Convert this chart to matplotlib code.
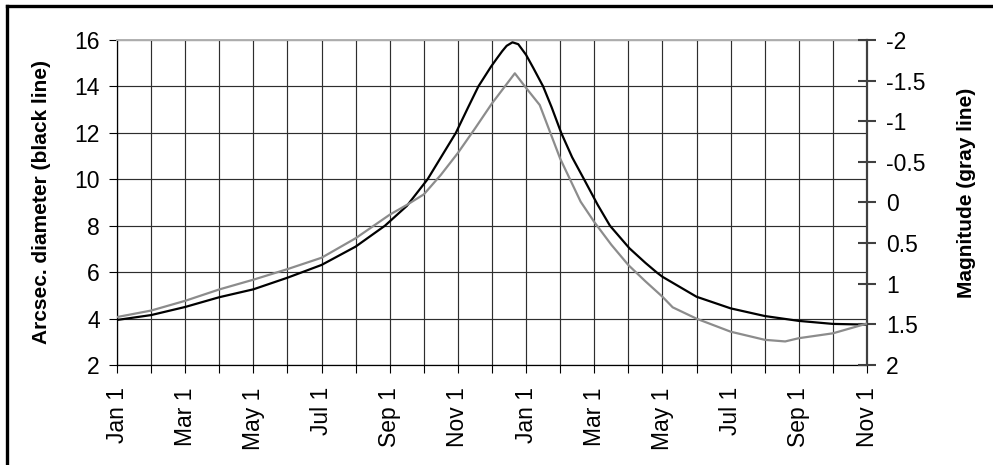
import matplotlib
matplotlib.use("Agg")
import matplotlib.pyplot as plt
from matplotlib.lines import Line2D
from matplotlib.ticker import FixedLocator, NullFormatter

plt.rcParams['font.family'] = ['Liberation Sans', 'DejaVu Sans']

# Time axis in months counted from Jan 1 of the first year
diam_months = [0, 1, 2, 3, 4, 5, 6, 7, 7.86, 8.5, 9.11, 9.5, 9.94, 10.3,
               10.6, 10.97, 11.15, 11.3, 11.43, 11.6, 11.77, 12, 12.21, 12.5,
               12.75, 13.03, 13.35, 13.7, 14.1, 14.46, 15.03, 15.5, 15.83, 16,
               17, 18, 19, 20, 21, 22]
# Apparent diameter of Mars in arcseconds (black line)
diameter = [3.94, 4.15, 4.5, 4.92, 5.26, 5.76, 6.31, 7.1, 8.0, 8.85, 10.0,
            10.94, 12.0, 13.1, 14.0, 14.85, 15.22, 15.52, 15.75, 15.9, 15.82,
            15.36, 14.8, 14.0, 13.1, 12.0, 10.95, 10.0, 8.9, 8.0, 7.03, 6.4,
            5.99, 5.8, 4.94, 4.44, 4.11, 3.9, 3.77, 3.74]

mag_months = [0, 1, 2, 3, 4, 5, 6, 7, 8, 8.5, 9, 9.5, 10, 10.5, 11, 11.67,
              12, 12.4, 13, 13.6, 14, 14.5, 15, 15.5, 16, 16.3, 17, 18, 19,
              19.6, 20, 21, 22]
# Visual magnitude (gray line)
magnitude = [1.41, 1.33, 1.21, 1.07, 0.95, 0.82, 0.68, 0.44, 0.15, 0.03,
             -0.10, -0.34, -0.61, -0.91, -1.22, -1.59, -1.41, -1.20, -0.54,
             -0.01, 0.24, 0.52, 0.77, 0.97, 1.16, 1.29, 1.43, 1.59, 1.69,
             1.71, 1.67, 1.61, 1.49]

month_labels = ["Jan 1", "Mar 1", "May 1", "Jul 1", "Sep 1", "Nov 1",
                "Jan 1", "Mar 1", "May 1", "Jul 1", "Sep 1", "Nov 1"]
diam_ticks = [2, 4, 6, 8, 10, 12, 14, 16]
mag_ticks = [-2, -1.5, -1, -0.5, 0, 0.5, 1, 1.5, 2]
mag_tick_labels = ["-2", "-1.5", "-1", "-0.5", "0", "0.5", "1", "1.5", "2"]

W, H = 993, 465
fig = plt.figure(figsize=(W / 100, H / 100), dpi=100)
fig.patch.set_facecolor("white")

L, R, T, B = 117, 867, 40, 365
ax = fig.add_axes([L / W, 1 - B / H, (R - L) / W, (B - T) / H])
ax2 = ax.twinx()

grid_color = "#2e2e2e"
fs = 16.5

# Diameter axis
ax.plot(diam_months, diameter, color="black", lw=1.6, zorder=3,
        solid_joinstyle="round")
ax.set_xlim(0, 22)
ax.set_ylim(2, 16)
ax.set_yticks(diam_ticks)
ax.set_xticks(list(range(0, 23, 2)))
ax.set_xticklabels(month_labels, rotation=90)
ax.xaxis.set_minor_locator(FixedLocator(list(range(1, 23, 2))))
ax.xaxis.set_minor_formatter(NullFormatter())
ax.grid(True, which="both", axis="x", color=grid_color, lw=0.85)
ax.grid(True, which="major", axis="y", color=grid_color, lw=0.85)
ax.set_axisbelow(True)

ax.tick_params(axis="y", which="major", direction="out", length=6, width=0.8,
               color="black", labelsize=fs, pad=6.5)
ax.tick_params(axis="x", which="both", direction="out", length=6, width=0.8,
               color="black", labelsize=fs, pad=10)

for side in ("left", "bottom"):
    ax.spines[side].set_color("black")
    ax.spines[side].set_linewidth(0.9)
ax.spines["top"].set_color("#b0b0b0")
ax.spines["top"].set_linewidth(1.4)
ax.spines["right"].set_visible(False)

ax.set_ylabel("Arcsec. diameter (black line)", fontsize=15, fontweight="bold")
ax.yaxis.set_label_coords((51 - L) / (R - L), 0.5)

# Magnitude axis (inverted: brighter is higher)
ax2.plot(mag_months, magnitude, color="#8c8c8c", lw=1.6, zorder=3,
         solid_joinstyle="round")
ax2.set_ylim(2, -2)
ax2.set_yticks(mag_ticks)
ax2.set_yticklabels(mag_tick_labels)
ax2.tick_params(axis="y", direction="inout", length=13, width=1.5,
                color="#404040", labelsize=fs, pad=7)
for side in ("left", "top", "bottom"):
    ax2.spines[side].set_visible(False)
ax2.spines["right"].set_color("#404040")
ax2.spines["right"].set_linewidth(1.6)
ax2.set_ylabel("Magnitude (gray line)", fontsize=15, fontweight="bold",
               rotation=90, va="bottom", ha="center")
ax2.yaxis.set_label_coords((976 - L) / (R - L), (B - 193) / (B - T))

# Outer frame edges along the top and left
fig.add_artist(Line2D([6.5 / W, 6.5 / W], [0, 1 - 6.5 / H],
                      transform=fig.transFigure, color="black", lw=2.4))
fig.add_artist(Line2D([6.5 / W, 1], [1 - 6.5 / H, 1 - 6.5 / H],
                      transform=fig.transFigure, color="black", lw=2.4))

fig.savefig("out.png", dpi=100)
